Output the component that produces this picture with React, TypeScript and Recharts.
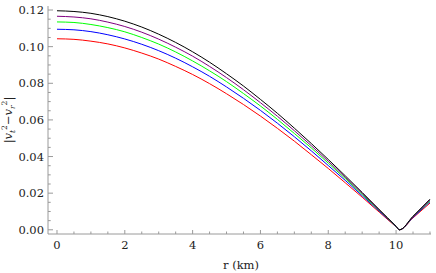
import React from "react";
import { LineChart, Line, XAxis, YAxis, Label } from "recharts";

// r in km
const radius = [0, 0.5, 1, 1.5, 2, 2.5, 3, 3.5, 4, 4.5, 5, 5.5, 6, 6.5, 7, 7.5, 8, 8.5, 9, 9.5, 10, 10.1, 10.5, 11];

const blackSeries = [
  0.1196, 0.1192, 0.1182, 0.1164, 0.1139, 0.1107, 0.1068, 0.1023, 0.0972, 0.0915, 0.0852, 0.0785,
  0.0712, 0.0636, 0.0555, 0.0471, 0.0384, 0.0295, 0.0204, 0.0111, 0.0019, 0, 0.0074, 0.0167,
];
const purpleSeries = [
  0.1166, 0.1162, 0.1152, 0.1134, 0.111, 0.1079, 0.1041, 0.0997, 0.0948, 0.0892, 0.0831, 0.0765,
  0.0694, 0.062, 0.0541, 0.0459, 0.0374, 0.0287, 0.0199, 0.0109, 0.0018, 0, 0.0072, 0.0163,
];
const greenSeries = [
  0.1135, 0.1132, 0.1121, 0.1104, 0.1081, 0.105, 0.1014, 0.0971, 0.0922, 0.0868, 0.0809, 0.0744,
  0.0676, 0.0603, 0.0526, 0.0447, 0.0364, 0.028, 0.0193, 0.0106, 0.0018, 0, 0.0071, 0.0158,
];
const blueSeries = [
  0.1095, 0.1092, 0.1082, 0.1065, 0.1042, 0.1013, 0.0978, 0.0937, 0.089, 0.0838, 0.078, 0.0718,
  0.0652, 0.0582, 0.0508, 0.0431, 0.0351, 0.027, 0.0186, 0.0102, 0.0017, 0, 0.0068, 0.0153,
];
const redSeries = [
  0.1043, 0.104, 0.103, 0.1015, 0.0993, 0.0965, 0.0932, 0.0892, 0.0848, 0.0798, 0.0743, 0.0684,
  0.0621, 0.0554, 0.0484, 0.041, 0.0335, 0.0257, 0.0178, 0.0097, 0.0016, 0, 0.0065, 0.0146,
];

const xTicks = [0, 0.5, 1, 1.5, 2, 2.5, 3, 3.5, 4, 4.5, 5, 5.5, 6, 6.5, 7, 7.5, 8, 8.5, 9, 9.5, 10, 10.5, 11];
const xLabels = [0, 2, 4, 6, 8, 10];
const yTicks = [
  0, 0.005, 0.01, 0.015, 0.02, 0.025, 0.03, 0.035, 0.04, 0.045, 0.05, 0.055, 0.06, 0.065, 0.07, 0.075,
  0.08, 0.085, 0.09, 0.095, 0.1, 0.105, 0.11, 0.115, 0.12,
];
const yLabels = [0, 0.02, 0.04, 0.06, 0.08, 0.1, 0.12];

const data = radius.map((r, i) => ({
  r,
  black: blackSeries[i],
  purple: purpleSeries[i],
  green: greenSeries[i],
  blue: blueSeries[i],
  red: redSeries[i],
}));

const FRAME = "#9a9a9a";
const SERIF = "DejaVu Serif";
const FS = 11.5;

const isMajor = (v: number, list: number[]) => list.some((l) => Math.abs(l - v) < 1e-9);

function BottomTick(props: any) {
  const { x, y, payload } = props;
  const major = isMajor(payload.value, xLabels);
  return (
    <g>
      <line x1={x} x2={x} y1={y} y2={y - (major ? 4 : 2.5)} stroke={FRAME} />
      {major && (
        <text x={x} y={y + 15} textAnchor="middle" fontSize={FS} fontFamily={SERIF} fill="#222">
          {payload.value}
        </text>
      )}
    </g>
  );
}

function TopTick(props: any) {
  const { x, y, payload } = props;
  const major = isMajor(payload.value, xLabels);
  return <line x1={x} x2={x} y1={y} y2={y + (major ? 4 : 2.5)} stroke={FRAME} />;
}

function LeftTick(props: any) {
  const { x, y, payload } = props;
  const major = isMajor(payload.value, yLabels);
  return (
    <g>
      <line x1={x} x2={x + (major ? 5 : 2.7)} y1={y} y2={y} stroke={FRAME} />
      {major && (
        <text x={x - 4} y={y + 4.2} textAnchor="end" fontSize={FS} fontFamily={SERIF} fill="#222">
          {payload.value.toFixed(2)}
        </text>
      )}
    </g>
  );
}

function RightTick(props: any) {
  const { x, y, payload } = props;
  const major = isMajor(payload.value, yLabels);
  return <line x1={x} x2={x - (major ? 5 : 2.7)} y1={y} y2={y} stroke={FRAME} />;
}

function YTitle() {
  return (
    <text transform="translate(12,120) rotate(-90)" textAnchor="middle" fontSize={FS} fontFamily={SERIF} fill="#222">
      <tspan>|</tspan>
      <tspan fontStyle="italic">v</tspan>
      <tspan fontSize={7.5} dy={3} fontStyle="italic">t</tspan>
      <tspan fontSize={7.5} dy={-8}>2</tspan>
      <tspan dy={5}>−</tspan>
      <tspan fontStyle="italic">v</tspan>
      <tspan fontSize={7.5} dy={3} fontStyle="italic">r</tspan>
      <tspan fontSize={7.5} dy={-8}>2</tspan>
      <tspan dy={5}>|</tspan>
    </text>
  );
}

function XTitle() {
  return (
    <text x={241} y={269} textAnchor="middle" fontSize={FS} fontFamily={SERIF} fill="#222">
      r (km)
    </text>
  );
}

export default function App() {
  return (
    <div style={{ position: "absolute", left: 0, top: 0, background: "#fff", fontFamily: SERIF }}>
      <LineChart width={436} height={273} data={data} margin={{ top: 6, right: 5, bottom: 0, left: 0 }}>
        <XAxis
          xAxisId="bottom"
          dataKey="r"
          type="number"
          domain={[-0.265, 11.03]}
          ticks={xTicks}
          allowDataOverflow
          height={39}
          tickSize={0}
          tickMargin={0}
          tickLine={false}
          tick={<BottomTick />}
          axisLine={{ stroke: FRAME }}
          interval={0}
        >
          <Label content={() => <XTitle />} />
        </XAxis>
        <XAxis
          xAxisId="top"
          orientation="top"
          dataKey="r"
          type="number"
          domain={[-0.265, 11.03]}
          ticks={xTicks}
          allowDataOverflow
          height={0}
          tickSize={0}
          tickMargin={0}
          tickLine={false}
          tick={<TopTick />}
          axisLine={{ stroke: FRAME }}
          interval={0}
        />
        <YAxis
          yAxisId="left"
          type="number"
          domain={[-0.0023, 0.1222]}
          ticks={yTicks}
          allowDataOverflow
          width={48}
          tickSize={0}
          tickMargin={0}
          tickLine={false}
          tick={<LeftTick />}
          axisLine={{ stroke: FRAME }}
          interval={0}
        >
          <Label content={() => <YTitle />} />
        </YAxis>
        <YAxis
          yAxisId="right"
          orientation="right"
          type="number"
          domain={[-0.0023, 0.1222]}
          ticks={yTicks}
          allowDataOverflow
          width={0}
          tickSize={0}
          tickMargin={0}
          tickLine={false}
          tick={<RightTick />}
          axisLine={{ stroke: FRAME }}
          interval={0}
        />
        <Line xAxisId="bottom" yAxisId="left" dataKey="red" stroke="#ff0000" strokeWidth={1} dot={false} isAnimationActive={false} type="monotone" />
        <Line xAxisId="bottom" yAxisId="left" dataKey="blue" stroke="#0000ff" strokeWidth={1} dot={false} isAnimationActive={false} type="monotone" />
        <Line xAxisId="bottom" yAxisId="left" dataKey="green" stroke="#00ff00" strokeWidth={1} dot={false} isAnimationActive={false} type="monotone" />
        <Line xAxisId="bottom" yAxisId="left" dataKey="purple" stroke="#800080" strokeWidth={1} dot={false} isAnimationActive={false} type="monotone" />
        <Line xAxisId="bottom" yAxisId="left" dataKey="black" stroke="#000000" strokeWidth={1} dot={false} isAnimationActive={false} type="monotone" />
      </LineChart>
    </div>
  );
}
